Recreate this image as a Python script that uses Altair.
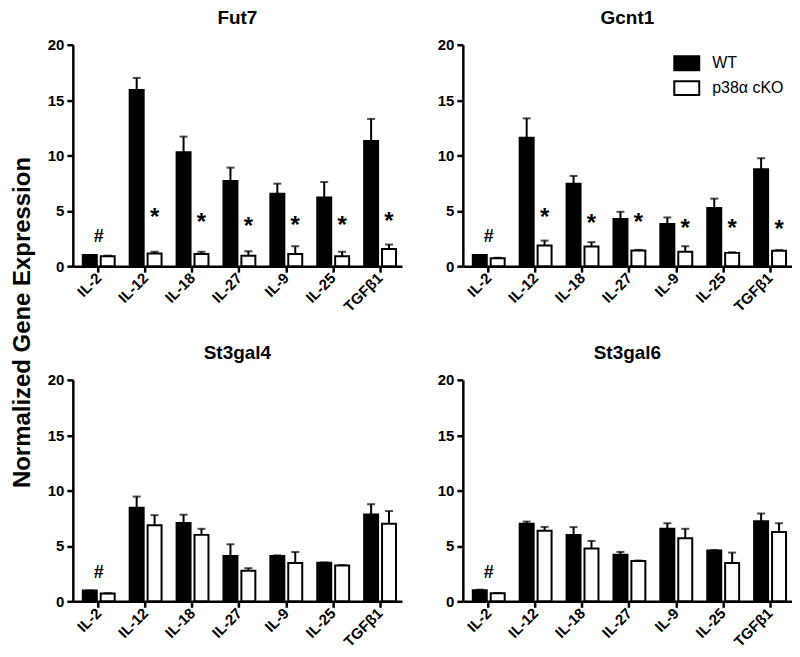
import altair as alt
import pandas as pd

cytokines = ["IL-2", "IL-12", "IL-18", "IL-27", "IL-9", "IL-25", "TGFβ1"]
genes = ["Fut7", "Gcnt1", "St3gal4", "St3gal6"]
groups = ["WT", "p38α cKO"]

fut7_wt = [1.0, 15.9, 10.3, 7.7, 6.55, 6.2, 11.3]
fut7_wt_err = [0.0, 1.1, 1.4, 1.2, 0.9, 1.4, 2.0]
fut7_ko = [0.9, 1.15, 1.1, 0.95, 1.1, 0.9, 1.55]
fut7_ko_err = [0.05, 0.15, 0.2, 0.4, 0.7, 0.4, 0.4]
fut7_star = [None, 4.95, 4.45, 4.1, 4.2, 4.2, 4.6]

gcnt1_wt = [1.0, 11.6, 7.45, 4.25, 3.8, 5.25, 8.75]
gcnt1_wt_err = [0.0, 1.75, 0.7, 0.66, 0.6, 0.85, 1.0]
gcnt1_ko = [0.72, 1.86, 1.77, 1.41, 1.3, 1.2, 1.4]
gcnt1_ko_err = [0.05, 0.45, 0.4, 0.06, 0.5, 0.06, 0.06]
gcnt1_star = [None, 4.9, 4.4, 4.45, 3.9, 3.9, 3.85]

st3gal4_wt = [0.98, 8.46, 7.08, 4.1, 4.1, 3.48, 7.85]
st3gal4_wt_err = [0.0, 1.0, 0.74, 1.05, 0.05, 0.03, 0.92]
st3gal4_ko = [0.7, 6.86, 6.0, 2.77, 3.45, 3.23, 7.0]
st3gal4_ko_err = [0.03, 0.92, 0.55, 0.22, 1.0, 0.05, 1.15]
st3gal4_star = [None] * 7

st3gal6_wt = [1.0, 7.0, 6.0, 4.2, 6.55, 4.6, 7.23]
st3gal6_wt_err = [0.05, 0.2, 0.7, 0.26, 0.5, 0.03, 0.7]
st3gal6_ko = [0.72, 6.37, 4.77, 3.63, 5.7, 3.45, 6.25]
st3gal6_ko_err = [0.03, 0.35, 0.68, 0.05, 0.85, 0.95, 0.8]
st3gal6_star = [None] * 7

hash_y = [2.75, 2.75, 2.7, 2.7]  # "#" above IL-2 in each panel

series = {
    "Fut7": (fut7_wt, fut7_wt_err, fut7_ko, fut7_ko_err, fut7_star),
    "Gcnt1": (gcnt1_wt, gcnt1_wt_err, gcnt1_ko, gcnt1_ko_err, gcnt1_star),
    "St3gal4": (st3gal4_wt, st3gal4_wt_err, st3gal4_ko, st3gal4_ko_err, st3gal4_star),
    "St3gal6": (st3gal6_wt, st3gal6_wt_err, st3gal6_ko, st3gal6_ko_err, st3gal6_star),
}

FONT = "Liberation Sans"
PW, PH = 330, 222

x_scale = alt.Scale(paddingInner=0.32, paddingOuter=0.17, align=0.625)
xo_scale = alt.Scale(domain=groups, paddingInner=0.22, paddingOuter=0)
y_scale = alt.Scale(domain=[0, 20])
fill_scale = alt.Scale(domain=groups, range=["black", "white"])


def panel(i, gene):
    wt, wte, ko, koe, star = series[gene]
    rows = []
    for c, m, e in zip(cytokines, wt, wte):
        rows.append({"cytokine": c, "group": "WT", "mean": m, "top": m + e})
    for c, m, e in zip(cytokines, ko, koe):
        rows.append({"cytokine": c, "group": "p38α cKO", "mean": m, "top": m + e})
    df = pd.DataFrame(rows)
    sdf = pd.DataFrame([{"cytokine": c, "group": "p38α cKO", "y": s, "t": "*"}
                        for c, s in zip(cytokines, star) if s is not None])
    hdf = pd.DataFrame([{"cytokine": "IL-2", "y": hash_y[i], "t": "#"}])

    if i == 0:
        yaxis = alt.Axis(values=[0, 5, 10, 15, 20], title="Normalized Gene Expression",
                         titleFontSize=24, titleFontWeight="bold", titleFont=FONT,
                         titleColor="black", titleX=-62, titleY=278,
                         titleAngle=-90, titleAlign="center", titleBaseline="top")
    else:
        yaxis = alt.Axis(values=[0, 5, 10, 15, 20], title=None)

    x = alt.X("cytokine:N", sort=cytokines, scale=x_scale,
              axis=alt.Axis(title=None, labelAngle=-45, labelAlign="right",
                            labelBaseline="middle"))
    xo = alt.XOffset("group:N", sort=groups, scale=xo_scale)

    if i == 1:
        leg = alt.Legend(title=None, orient="none", legendX=211, legendY=5,
                         symbolType="M-1,-0.56H1V0.56H-1Z", symbolSize=625,
                         symbolStrokeColor="black", symbolStrokeWidth=2,
                         labelFont=FONT, labelFontSize=16, labelFontWeight="normal",
                         labelColor="black", labelOffset=12, rowPadding=0, padding=0)
    else:
        leg = None

    base = alt.Chart(df)
    bars = base.mark_bar(stroke="black", strokeWidth=2).encode(
        x=x, xOffset=xo,
        y=alt.Y("mean:Q", scale=y_scale, axis=yaxis),
        fill=alt.Fill("group:N", scale=fill_scale, legend=leg),
    )
    rules = base.mark_rule(color="black", strokeWidth=2).encode(
        x=x, xOffset=xo, y="mean:Q", y2="top:Q")
    caps = base.mark_tick(color="black", thickness=2, size=8, orient="horizontal").encode(
        x=x, xOffset=xo, y="top:Q")
    layers = [bars, rules, caps]
    hashes = alt.Chart(hdf).mark_text(font=FONT, fontSize=18, fontWeight="bold",
                                      color="black", baseline="alphabetic", dy=6.5).encode(
        x=x, y="y:Q", text="t:N")
    layers.append(hashes)
    if len(sdf):
        stars = alt.Chart(sdf).mark_text(font=FONT, fontSize=24, fontWeight="bold",
                                         color="black", baseline="alphabetic", dy=13.5).encode(
            x=x, xOffset=xo, y="y:Q", text="t:N")
        layers.append(stars)
    return alt.layer(*layers).properties(width=PW, height=PH, title=gene)


p = [panel(i, g) for i, g in enumerate(genes)]
chart = alt.concat(
    *p, columns=2, bounds="flush",
    spacing=alt.RowColnumber(row=114, column=61),
).resolve_legend(fill="independent").resolve_scale(fill="independent").properties(
    padding={"left": 3, "top": 0, "right": 0, "bottom": 0}
).configure(font=FONT).configure_view(stroke=None).configure_axis(
    grid=False, domainColor="black", domainWidth=2.5, tickColor="black", tickWidth=2.5,
    tickSize=6, labelColor="black", labelFont=FONT, labelFontSize=15,
    labelFontWeight="bold", labelPadding=3,
).configure_title(
    font=FONT, fontSize=19, fontWeight="bold", color="black", anchor="middle", offset=10
)

chart.save("out.html", embed_options={"renderer": "svg", "actions": False})
